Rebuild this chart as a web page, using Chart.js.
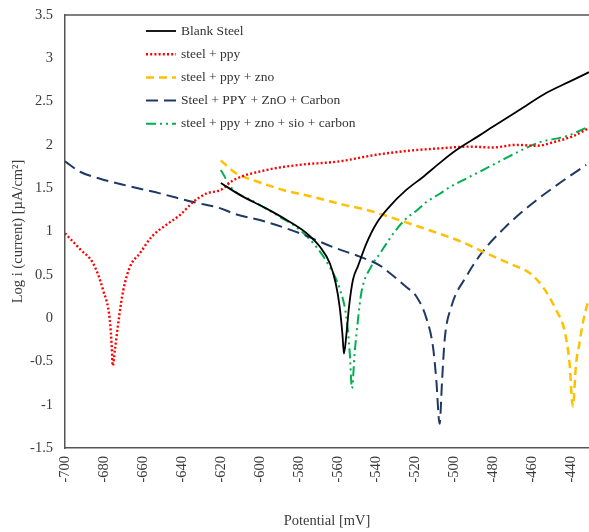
<!DOCTYPE html>
<html>
<head>
<meta charset="utf-8">
<script src="https://cdn.jsdelivr.net/npm/chart.js@4/dist/chart.umd.min.js"></script>
<style>
  html, body { margin: 0; padding: 0; background: #fff; }
  #wrap { width: 589px; height: 532px; }
</style>
</head>
<body>
<div id="wrap"><canvas id="tafel"></canvas></div>
<script>
// tick labels
const xTicks = [-700, -680, -660, -640, -620, -600, -580, -560, -540, -520, -500, -480, -460, -440];
const yTicks = [-1.5, -1, -0.5, 0, 0.5, 1, 1.5, 2, 2.5, 3, 3.5];

// Blank Steel
const blankX = [-620, -610, -597, -586, -576, -569, -564, -561, -559, -557.6, -556.8, -555.5, -554.2, -552.2, -549.6, -545.3, -540.2, -533.3, -524.8, -516.2, -507.7, -499.1, -487.2, -480.4, -467, -453, -441, -431];
const blankY = [1.56, 1.42, 1.27, 1.13, 0.98, 0.82, 0.63, 0.40, 0.13, -0.18, -0.41, -0.18, 0.13, 0.44, 0.60, 0.86, 1.09, 1.29, 1.48, 1.63, 1.79, 1.94, 2.11, 2.21, 2.40, 2.60, 2.73, 2.84];

// steel + ppy
const ppyX = [-700, -692, -685.5, -680.4, -677, -676, -675.5, -674.4, -672.2, -670.1, -666.7, -661.5, -655.5, -647.8, -641, -634.2, -627.3, -620, -613.7, -596.6, -579.5, -559, -541.9, -524.8, -507.7, -492.3, -480.4, -468.4, -458.1, -447.8, -439.3, -431.3];
const ppyY = [0.98, 0.79, 0.63, 0.32, -0.02, -0.33, -0.55, -0.37, 0.02, 0.32, 0.59, 0.75, 0.94, 1.08, 1.19, 1.34, 1.44, 1.48, 1.59, 1.71, 1.77, 1.81, 1.88, 1.93, 1.96, 1.98, 1.97, 2.0, 1.99, 2.04, 2.10, 2.19];

// steel + ppy + zno
const znoX = [-620, -612, -601.7, -588, -572.7, -557.3, -545.3, -528.2, -511.1, -497.4, -483.8, -471.8, -461.5, -454.7, -447.8, -443.6, -441, -439.3, -437.6, -435.9, -434.2, -431.3];
const znoY = [1.82, 1.67, 1.58, 1.48, 1.40, 1.31, 1.25, 1.13, 1.00, 0.89, 0.75, 0.63, 0.52, 0.36, 0.09, -0.14, -0.52, -1.02, -0.52, -0.29, -0.06, 0.21];

// Steel + PPY + ZnO + Carbon
const carbonX = [-700, -692.3, -682, -668.4, -651.3, -634.2, -620.5, -613.7, -596.6, -579.5, -562.4, -548.7, -538.5, -533.3, -524.8, -519.6, -514.5, -511.1, -509.4, -507.7, -506.4, -505.1, -501.7, -494, -485.5, -474, -459.8, -446, -432.4];
const carbonY = [1.81, 1.69, 1.61, 1.53, 1.44, 1.34, 1.27, 1.21, 1.11, 0.98, 0.82, 0.71, 0.61, 0.52, 0.36, 0.25, 0.0, -0.33, -0.71, -1.22, -0.71, -0.25, 0.13, 0.48, 0.77, 1.05, 1.33, 1.56, 1.77];

// steel + ppy + zno + sio + carbon
const sioX = [-620, -613.7, -605, -589.7, -579.5, -570.9, -564.1, -559, -555.5, -553.8, -552.7, -551.3, -549.6, -547.9, -542.7, -538.5, -535, -530, -524.8, -519.6, -514.5, -508, -502.6, -495, -488.9, -482, -473.5, -456.4, -442.7, -431.3];
const sioY = [1.71, 1.48, 1.37, 1.17, 1.02, 0.82, 0.59, 0.34, 0.0, -0.41, -0.81, -0.40, -0.02, 0.29, 0.60, 0.74, 0.86, 1.02, 1.15, 1.24, 1.34, 1.43, 1.51, 1.60, 1.67, 1.75, 1.85, 2.03, 2.10, 2.21];

function pts(xs, ys) {
  return xs.map((x, i) => ({ x: x, y: ys[i] }));
}

const serif = "'Liberation Serif', 'DejaVu Serif', serif";

// Legend drawn inside the plot, plus the top frame line
const frameAndLegend = {
  id: "frameAndLegend",
  afterDraw(chart) {
    const ctx = chart.ctx;
    const a = chart.chartArea;
    ctx.save();
    ctx.strokeStyle = "#555";
    ctx.lineWidth = 1.5;
    ctx.beginPath();
    ctx.moveTo(a.left, a.top);
    ctx.lineTo(a.right, a.top);
    ctx.stroke();

    let y = 31;
    chart.data.datasets.forEach(ds => {
      ctx.strokeStyle = ds.borderColor;
      ctx.lineWidth = ds.borderWidth;
      ctx.setLineDash(ds.borderDash || []);
      ctx.beginPath();
      ctx.moveTo(146, y);
      ctx.lineTo(176, y);
      ctx.stroke();
      ctx.setLineDash([]);
      ctx.fillStyle = "#333";
      ctx.font = "13.5px " + serif;
      ctx.textBaseline = "middle";
      ctx.textAlign = "left";
      ctx.fillText(ds.label, 181, y);
      y += 23.2;
    });
    ctx.restore();
  }
};

new Chart(document.getElementById("tafel"), {
  type: "line",
  data: {
    datasets: [
      { label: "Blank Steel", data: pts(blankX, blankY), borderColor: "#000000", borderWidth: 1.8, borderDash: [] },
      { label: "steel + ppy", data: pts(ppyX, ppyY), borderColor: "#FF0000", borderWidth: 2.4, borderDash: [2, 2.2] },
      { label: "steel + ppy + zno", data: pts(znoX, znoY), borderColor: "#FFC000", borderWidth: 2.5, borderDash: [8, 5] },
      { label: "Steel + PPY + ZnO + Carbon", data: pts(carbonX, carbonY), borderColor: "#1F3864", borderWidth: 2, borderDash: [12, 6] },
      { label: "steel + ppy + zno + sio + carbon", data: pts(sioX, sioY), borderColor: "#00B050", borderWidth: 2, borderDash: [10, 4, 2, 4, 2, 4] }
    ]
  },
  options: {
    responsive: true,
    maintainAspectRatio: false,
    animation: false,
    elements: {
      point: { radius: 0 },
      line: { cubicInterpolationMode: "monotone", borderCapStyle: "butt" }
    },
    layout: { padding: { top: 15, right: 0, left: 0, bottom: 0 } },
    plugins: {
      legend: { display: false },
      tooltip: { enabled: false }
    },
    scales: {
      x: {
        type: "linear",
        min: -700,
        max: -431,
        grid: { display: false, drawTicks: false },
        border: { display: true, color: "#555", width: 1.5 },
        afterBuildTicks: axis => { axis.ticks = xTicks.map(v => ({ value: v })); },
        afterFit: axis => {
          axis.height = 84;
          axis.paddingLeft = 0;
          axis.paddingRight = 0;
        },
        ticks: {
          minRotation: 90,
          maxRotation: 90,
          padding: 8,
          color: "#3a3a3a",
          font: { family: serif, size: 14.5 },
          callback: v => String(v)
        },
        title: {
          display: true,
          text: "Potential [mV]",
          color: "#3a3a3a",
          font: { family: serif, size: 14.5 },
          padding: { top: 0, bottom: 2 }
        }
      },
      y: {
        type: "linear",
        min: -1.5,
        max: 3.5,
        grid: { display: false, drawTicks: false },
        border: { display: true, color: "#555", width: 1.5 },
        afterBuildTicks: axis => { axis.ticks = yTicks.map(v => ({ value: v })); },
        afterFit: axis => {
          axis.width = 65;
          axis.paddingTop = 0;
          axis.paddingBottom = 0;
        },
        ticks: {
          padding: 12,
          color: "#3a3a3a",
          font: { family: serif, size: 14.5 },
          callback: v => String(v)
        },
        title: {
          display: true,
          text: "Log i (current) [µA/cm²]",
          color: "#3a3a3a",
          font: { family: serif, size: 14.5 },
          padding: { top: 9, bottom: 0 }
        }
      }
    }
  },
  plugins: [frameAndLegend]
});
</script>
</body>
</html>
